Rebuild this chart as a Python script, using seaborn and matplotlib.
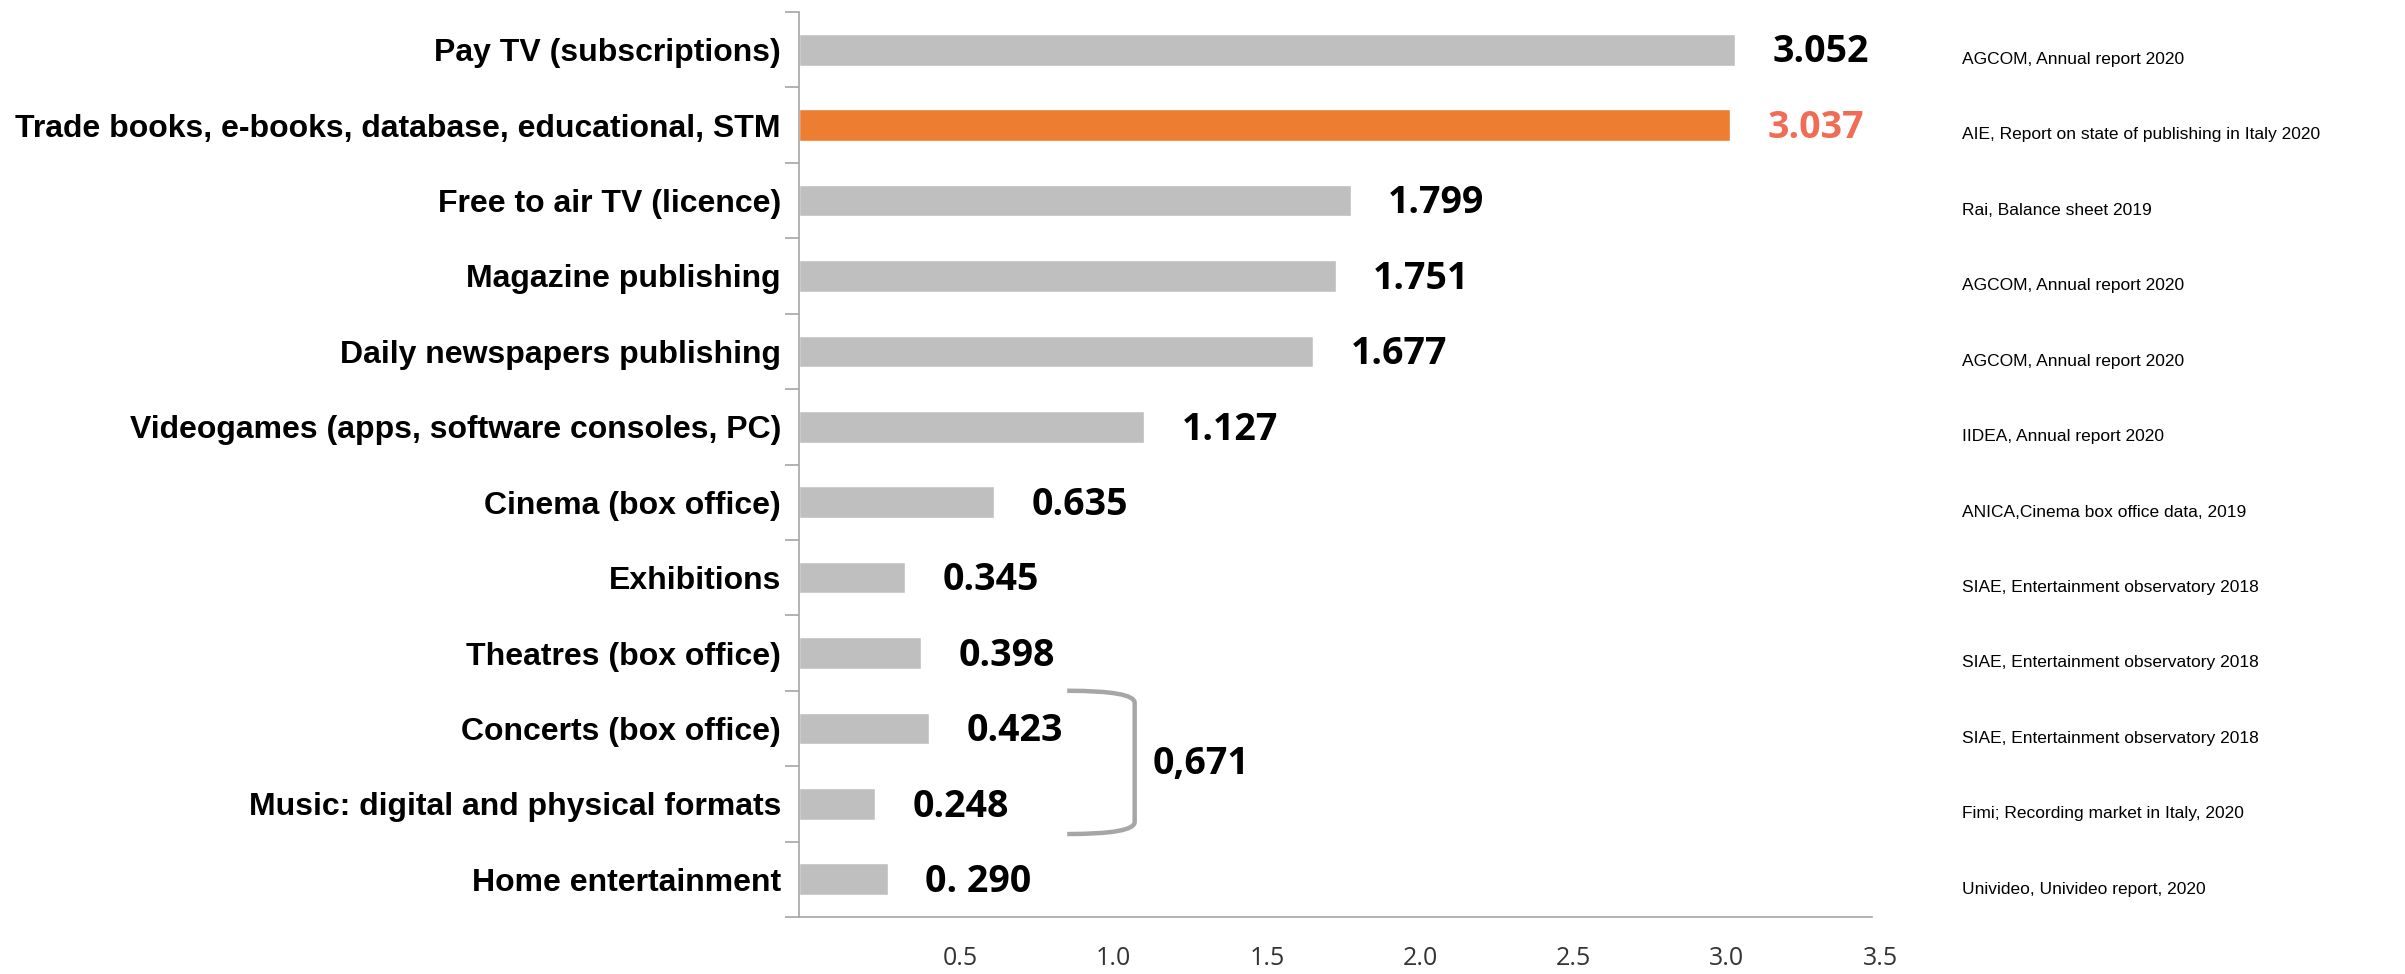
import matplotlib.pyplot as plt
import matplotlib.transforms as mtransforms
from matplotlib.path import Path
from matplotlib.patches import PathPatch
import pandas as pd
import seaborn as sns

categories = [
    "Pay TV (subscriptions)",
    "Trade books, e-books, database, educational, STM",
    "Free to air TV (licence)",
    "Magazine publishing",
    "Daily newspapers publishing",
    "Videogames (apps, software consoles, PC)",
    "Cinema (box office)",
    "Exhibitions",
    "Theatres (box office)",
    "Concerts (box office)",
    "Music: digital and physical formats",
    "Home entertainment",
]
values = [3.052, 3.037, 1.799, 1.751, 1.677, 1.127, 0.635, 0.345, 0.398, 0.423, 0.248, 0.290]
value_labels = ["3.052", "3.037", "1.799", "1.751", "1.677", "1.127",
                "0.635", "0.345", "0.398", "0.423", "0.248", "0. 290"]
sources = [
    "AGCOM, Annual report 2020",
    "AIE, Report on state of publishing in Italy 2020",
    "Rai, Balance sheet 2019",
    "AGCOM, Annual report 2020",
    "AGCOM, Annual report 2020",
    "IIDEA, Annual report 2020",
    "ANICA,Cinema box office data, 2019",
    "SIAE, Entertainment observatory 2018",
    "SIAE, Entertainment observatory 2018",
    "SIAE, Entertainment observatory 2018",
    "Fimi; Recording market in Italy, 2020",
    "Univideo, Univideo report, 2020",
]
highlight = "Trade books, e-books, database, educational, STM"
bracket_items = ["Concerts (box office)", "Music: digital and physical formats"]
x_ticks = [0, 0.5, 1.0, 1.5, 2.0, 2.5, 3.0, 3.5]

grey, orange, salmon, line_grey = "#BFBFBF", "#ED7D31", "#F06C55", "#A6A6A6"

sns.set_theme(style="white")
plt.rcParams["font.family"] = ["Liberation Sans", "DejaVu Sans"]

df = pd.DataFrame({"category": categories, "value": values})
palette = {c: (orange if c == highlight else grey) for c in categories}

fig = plt.figure(figsize=(24.05, 9.74), dpi=100)
ax = fig.add_axes([0.3322, 0.0585, 0.4462, 0.9292])
sns.barplot(data=df, x="value", y="category", hue="category", palette=palette,
            order=categories, legend=False, width=0.42, saturation=1, ax=ax)

ax.set_xlim(0, 3.5)
ax.set_ylim(len(categories) - 0.5, -0.5)
ax.set_xlabel("")
ax.set_ylabel("")

# x axis
ax.set_xticks(x_ticks, ["" if t == 0 else f"{t:.1f}" for t in x_ticks])
ax.tick_params(axis="x", direction="out", length=12, width=1.2, color=line_grey,
               pad=9, labelsize=18, labelcolor="#333333")
shift = mtransforms.ScaledTranslation(8 / 100, 0, fig.dpi_scale_trans)
for lab in ax.get_xticklabels():
    lab.set_family(["Open Sans", "DejaVu Sans"])
    lab.set_transform(lab.get_transform() + shift)

# y axis: labels at centres, tick marks at the category boundaries
ax.set_yticks(range(len(categories)), categories)
ax.set_yticks([i - 0.5 for i in range(len(categories) + 1)], minor=True)
ax.tick_params(axis="y", which="major", length=0, pad=13, labelsize=23)
ax.tick_params(axis="y", which="minor", direction="out", length=10, width=1.2,
               color=line_grey, left=True)
for lab in ax.get_yticklabels():
    lab.set_fontweight("bold")
    lab.set_color("black")

for side in ["top", "right"]:
    ax.spines[side].set_visible(False)
for side in ["left", "bottom"]:
    ax.spines[side].set_color(line_grey)
    ax.spines[side].set_linewidth(1.2)

# value labels
for i, (v, text, cat) in enumerate(zip(values, value_labels, categories)):
    ax.annotate(text, (v, i), xytext=(27, -2), textcoords="offset points",
                ha="left", va="center", fontsize=27, fontweight="bold",
                family=["Open Sans", "DejaVu Sans"],
                color=salmon if cat == highlight else "black")

# sources on the right
for i, src in enumerate(sources):
    ax.text(1.0 + 90 / (0.4462 * 2405), i + 0.13, src, transform=ax.get_yaxis_transform(),
            ha="left", va="center", fontsize=12.5, color="black", clip_on=False)

# bracket around concerts + music
i0 = categories.index(bracket_items[0])
i1 = categories.index(bracket_items[1])
y_top, y_bot = i0 - 0.5, i1 + 0.4
x_left, x_right = 0.875, 1.095
verts = [(x_left, y_top), (x_right, y_top), (x_right, y_top + 0.16),
         (x_right, y_bot - 0.16), (x_right, y_bot), (x_left, y_bot)]
codes = [Path.MOVETO, Path.CURVE3, Path.CURVE3, Path.LINETO, Path.CURVE3, Path.CURVE3]
ax.add_patch(PathPatch(Path(verts, codes), fill=False, edgecolor=line_grey, lw=3.2,
                       capstyle="butt", clip_on=False))
total = sum(values[categories.index(c)] for c in bracket_items)
ax.text(x_right + 0.06, (y_top + y_bot) / 2 + 0.02, f"{total:.3f}".replace(".", ","),
        ha="left", va="center", fontsize=27, fontweight="bold",
        family=["Open Sans", "DejaVu Sans"], color="black")

fig.savefig("out.png", dpi=100)
